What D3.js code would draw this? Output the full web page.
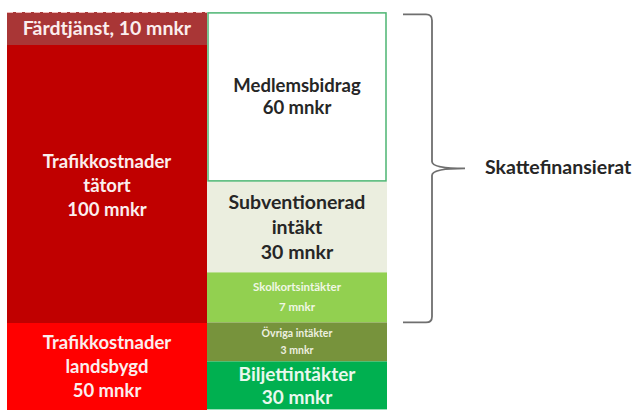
<!DOCTYPE html>
<html>
<head>
<meta charset="utf-8">
<script src="https://cdn.jsdelivr.net/npm/d3@7"></script>
<style>
  body { margin: 0; background: #fff; }
  svg text { font-family: Lato, "Open Sans", sans-serif; font-weight: bold; }
</style>
</head>
<body>
<svg id="chart" width="632" height="410"></svg>
<script>
// kostnader (vänster stapel), uppifrån och ned
const costLabels = [["Färdtjänst, 10 mnkr"], ["Trafikkostnader", "tätort", "100 mnkr"], ["Trafikkostnader", "landsbygd", "50 mnkr"]]
// blockhöjd som den ritats i bilden (schematisk, ej proportionell mot mnkr)
const costSizes = [33, 278, 87]
const costColors = ["#a93636", "#c00000", "#ff0000"]

// intäkter (höger stapel), uppifrån och ned
const incomeLabels = [["Medlemsbidrag", "60 mnkr"], ["Subventionerad", "intäkt", "30 mnkr"], ["Skolkortsintäkter", "7 mnkr"], ["Övriga intäkter", "3 mnkr"], ["Biljettintäkter", "30 mnkr"]]
const incomeSizes = [169, 91, 50, 39, 48]
const incomeColors = ["#ffffff", "#ebeedf", "#92d050", "#77933c", "#00b050"]
const incomeText = ["#262626", "#262626", "#f0f7e4", "#eef0e0", "#e9f8ee"]
const incomeFont = [18.5, 19.5, 11.5, 10.5, 19]

const columnWidths = [200, 180]
const braceLabel = "Skattefinansierat"
const braceCount = 3   // de tre översta intäktsblocken är skattefinansierade

const svg = d3.select('#chart')

const x = d3.scaleLinear().domain([0, d3.sum(columnWidths)]).range([7, 387])
const y = d3.scaleLinear().domain([0, 398]).range([12, 410])

function stackCol(sizes) {
    const ends = d3.cumsum(sizes)
    return sizes.map((s, i) => ({ y0: ends[i] - s, y1: ends[i] }))
}

const leftStack = stackCol(costSizes)
const rightStack = stackCol(incomeSizes).map(d => ({ y0: d.y0 + 0.4, y1: d.y1 + 0.4 }))

// vänster stapel
const left = svg.append('g')
left.selectAll('rect')
    .data(leftStack)
    .join('rect')
    .attr('x', x(0))
    .attr('width', x(columnWidths[0]) - x(0))
    .attr('y', d => y(d.y0))
    .attr('height', d => y(d.y1) - y(d.y0))
    .attr('fill', (d, i) => costColors[i])

left.append('line')
    .attr('x1', x(0)).attr('x2', x(columnWidths[0]))
    .attr('y1', y(0) + 0.5).attr('y2', y(0) + 0.5)
    .attr('stroke', '#f0b8b8').attr('stroke-dasharray', '6,3')

const costFont = [19.5, 18.5, 18.5]
left.selectAll('text')
    .data(leftStack)
    .join('text')
    .attr('text-anchor', 'middle')
    .attr('fill', '#fbeeee')
    .style('font-size', (d, i) => costFont[i] + 'px')
    .each(function (d, i) {
        const lines = costLabels[i]
        const lh = 24
        const cy = i === 1 ? 186 : (y(d.y0) + y(d.y1)) / 2
        const t = d3.select(this)
        lines.forEach((l, k) => {
            t.append('tspan')
                .attr('x', (x(0) + x(columnWidths[0])) / 2)
                .attr('y', cy + (k - (lines.length - 1) / 2) * lh + costFont[i] * 0.35)
                .text(l)
        })
    })

// höger stapel
const x0r = x(columnWidths[0]), x1r = x(d3.sum(columnWidths))
const right = svg.append('g')
right.selectAll('rect')
    .data(rightStack)
    .join('rect')
    .attr('x', x0r)
    .attr('width', x1r - x0r)
    .attr('y', d => y(d.y0))
    .attr('height', d => y(d.y1) - y(d.y0))
    .attr('fill', (d, i) => incomeColors[i])

right.append('rect')
    .attr('x', x0r + 1).attr('y', y(rightStack[0].y0) + 0.5)
    .attr('width', x1r - x0r - 2).attr('height', y(rightStack[0].y1) - y(rightStack[0].y0) - 1)
    .attr('fill', 'none').attr('stroke', '#4cb572').attr('stroke-width', 1.5)

const lineH = [22, 25, 20, 17, 23]
right.selectAll('text')
    .data(rightStack)
    .join('text')
    .attr('text-anchor', 'middle')
    .attr('fill', (d, i) => incomeText[i])
    .style('font-size', (d, i) => incomeFont[i] + 'px')
    .each(function (d, i) {
        const lines = incomeLabels[i]
        const cy = (y(d.y0) + y(d.y1)) / 2
        const t = d3.select(this)
        lines.forEach((l, k) => {
            t.append('tspan')
                .attr('x', (x0r + x1r) / 2)
                .attr('y', cy + (k - (lines.length - 1) / 2) * lineH[i] + incomeFont[i] * 0.35)
                .text(l)
        })
    })

// klammer
const bTop = y(rightStack[0].y0) + 2
const bBot = y(rightStack[braceCount - 1].y1)
const bMid = (bTop + bBot) / 2
const bx = 432
const p = d3.path()
p.moveTo(403, bTop)
p.lineTo(bx - 6, bTop)
p.quadraticCurveTo(bx, bTop, bx, bTop + 6)
p.lineTo(bx, bMid - 7)
p.quadraticCurveTo(bx, bMid, 465, bMid)
p.quadraticCurveTo(bx, bMid, bx, bMid + 7)
p.lineTo(bx, bBot - 6)
p.quadraticCurveTo(bx, bBot, bx - 6, bBot)
p.lineTo(403, bBot)
svg.append('path')
    .attr('d', p.toString())
    .attr('fill', 'none')
    .attr('stroke', '#6f6f6f')
    .attr('stroke-width', 1.8)

svg.append('text')
    .attr('x', 485)
    .attr('y', bMid + 6)
    .attr('fill', '#262626')
    .style('font-size', '19.5px')
    .text(braceLabel)
</script>
</body>
</html>
